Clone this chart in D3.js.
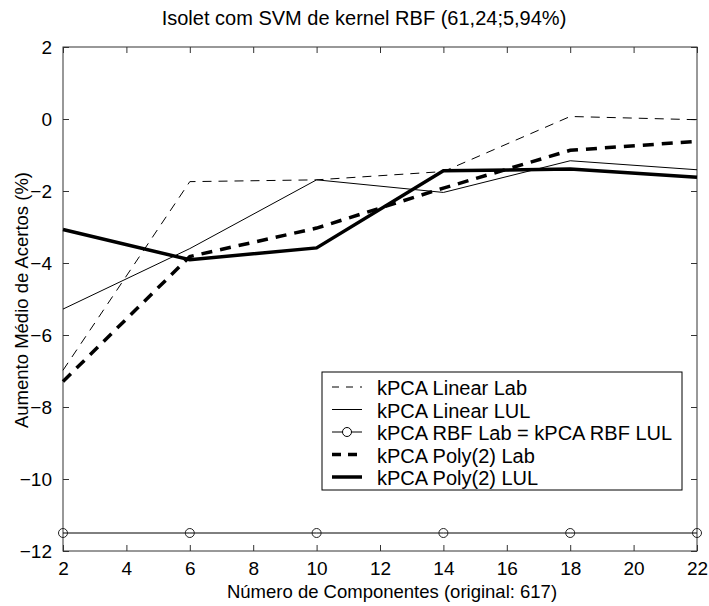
<!DOCTYPE html>
<html>
<head>
<meta charset="utf-8">
<script src="https://cdn.jsdelivr.net/npm/d3@7"></script>
<style>
  body { margin: 0; background: white; }
  svg { display: block; font-family: "Liberation Sans", Arial, sans-serif; }
</style>
</head>
<body>
<svg id="chart" width="709" height="606"></svg>
<script>
// data
const components = [2, 6, 10, 14, 18, 22];
const linearLab = [-6.98, -1.74, -1.69, -1.46, 0.07, -0.02];
const linearLUL = [-5.28, -3.6, -1.69, -2.04, -1.16, -1.41];
const rbfLab = [-11.5, -11.5, -11.5, -11.5, -11.5, -11.5];
const polyLab = [-7.29, -3.82, -3.03, -1.92, -0.87, -0.62];
const polyLUL = [-3.07, -3.91, -3.58, -1.44, -1.39, -1.62];
const xTicks = [2, 4, 6, 8, 10, 12, 14, 16, 18, 20, 22];
const yTicks = [2, 0, -2, -4, -6, -8, -10, -12];

const series = [
    { name: "kPCA Linear Lab", values: linearLab, width: 1, dash: "9,7", marker: false },
    { name: "kPCA Linear LUL", values: linearLUL, width: 1, dash: null, marker: false },
    { name: "kPCA RBF Lab = kPCA RBF LUL", values: rbfLab, width: 1, dash: null, marker: true },
    { name: "kPCA Poly(2) Lab", values: polyLab, width: 3.5, dash: "11,8", marker: false },
    { name: "kPCA Poly(2) LUL", values: polyLUL, width: 3.5, dash: null, marker: false }
];

const margin = { top: 47, right: 12, bottom: 55, left: 63 };
const width = 709, height = 606;
const innerW = width - margin.left - margin.right;
const innerH = height - margin.top - margin.bottom;

const svg = d3.select("#chart");
const g = svg.append("g").attr("transform", `translate(${margin.left},${margin.top})`);

const x = d3.scaleLinear().domain([2, 22]).range([0, innerW]);
const y = d3.scaleLinear().domain([-12, 2]).range([innerH, 0]);

//box with inward ticks on all sides
const axisColor = "#333";
const styleAxis = sel => {
    sel.select(".domain").remove();
    sel.selectAll("line").attr("stroke", axisColor);
    sel.selectAll("text").style("font-size", "19px").attr("fill", "black");
};

g.append("g").attr("transform", `translate(0,${innerH})`)
    .call(d3.axisBottom(x).tickValues(xTicks).tickSize(-6).tickPadding(11).tickFormat(d3.format("d")))
    .call(styleAxis);
g.append("g")
    .call(d3.axisTop(x).tickValues(xTicks).tickSize(-6).tickFormat(""))
    .call(styleAxis);
g.append("g")
    .call(d3.axisLeft(y).tickValues(yTicks).tickSize(-6).tickPadding(11).tickFormat(d => d < 0 ? "\u2212" + Math.abs(d) : d))
    .call(styleAxis);
g.append("g").attr("transform", `translate(${innerW},0)`)
    .call(d3.axisRight(y).tickValues(yTicks).tickSize(-6).tickFormat(""))
    .call(styleAxis);

g.append("rect")
    .attr("width", innerW).attr("height", innerH)
    .attr("fill", "none").attr("stroke", axisColor).attr("stroke-width", 1);

//lines
const line = d3.line().x((d, i) => x(components[i])).y(d => y(d));

series.forEach(s => {
    g.append("path")
        .datum(s.values)
        .attr("d", line)
        .attr("fill", "none")
        .attr("stroke", "black")
        .attr("stroke-width", s.width)
        .attr("stroke-dasharray", s.dash)
        .attr("stroke-linejoin", "miter");
    if (s.marker) {
        g.selectAll(null)
            .data(s.values)
            .enter()
            .append("circle")
            .attr("cx", (d, i) => x(components[i]))
            .attr("cy", d => y(d))
            .attr("r", 4.5)
            .attr("fill", "none")
            .attr("stroke", "#222");
    }
});

//legend
const legend = svg.append("g").attr("transform", "translate(322,372)");
legend.append("rect")
    .attr("width", 360).attr("height", 118)
    .attr("fill", "white").attr("stroke", "black");

series.forEach((s, i) => {
    const ly = 15 + i * 22.5;
    legend.append("line")
        .attr("x1", 10).attr("x2", 40)
        .attr("y1", ly).attr("y2", ly)
        .attr("stroke", "black")
        .attr("stroke-width", s.width)
        .attr("stroke-dasharray", s.dash ? (s.width > 2 ? "9,7" : "7,7") : null);
    if (s.marker) {
        legend.append("circle").attr("cx", 25).attr("cy", ly).attr("r", 4.5)
            .attr("fill", "white").attr("stroke", "black");
    }
    legend.append("text")
        .attr("x", 55).attr("y", ly + 1)
        .attr("dominant-baseline", "central")
        .style("font-size", "20px")
        .text(s.name);
});

//title and axis labels
svg.append("text")
    .attr("x", 364).attr("y", 25)
    .attr("text-anchor", "middle")
    .style("font-size", "20px")
    .text("Isolet com SVM de kernel RBF (61,24;5,94%)");

svg.append("text")
    .attr("x", 392).attr("y", 598)
    .attr("text-anchor", "middle")
    .style("font-size", "18.5px")
    .text("Número de Componentes (original: 617)");

svg.append("text")
    .attr("transform", "translate(28,300) rotate(-90)")
    .attr("text-anchor", "middle")
    .style("font-size", "18.5px")
    .text("Aumento Médio de Acertos (%)");
</script>
</body>
</html>
